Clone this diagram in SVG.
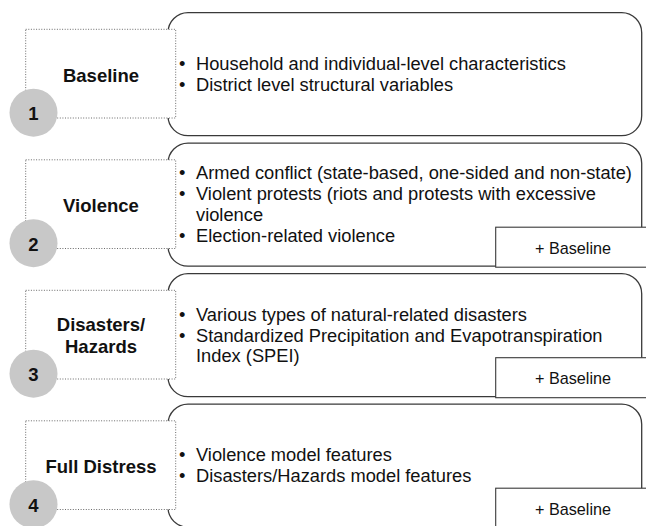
<svg xmlns="http://www.w3.org/2000/svg" width="646" height="526" viewBox="0 0 646 526">
  <style>
    .card { fill: #ffffff; stroke: #3a3a3a; stroke-width: 1.3; }
    .tag { fill: #ffffff; stroke: #3a3a3a; stroke-width: 1.1; }
    .frame { fill: #ffffff; stroke: #6a6a6a; stroke-width: 1; stroke-dasharray: 1 1.6; }
    .badge { fill: #c8c8c8; stroke: none; }
    .lbl { font-family: "Liberation Sans", Arial, Helvetica, sans-serif; font-weight: bold; font-size: 18.5px; fill: #111111; text-anchor: middle; }
    .num { font-family: "Liberation Sans", Arial, Helvetica, sans-serif; font-weight: bold; font-size: 18.5px; fill: #111111; text-anchor: middle; }
    .item { font-family: "Liberation Sans", Arial, Helvetica, sans-serif; font-size: 18.3px; fill: #111111; }
    .plus { font-family: "Liberation Sans", Arial, Helvetica, sans-serif; font-size: 16.2px; fill: #111111; text-anchor: middle; }
  </style>
  <rect width="646" height="526" fill="#ffffff"/>

  <g id="baseline">
    <rect class="card" x="168" y="12.7" width="473.7" height="123" rx="20"/>
    <rect class="frame" x="25.7" y="29.3" width="150" height="88.7"/>
    <text class="lbl" x="101" y="81.7">Baseline</text>
    <text class="item" x="179" y="69.7">•</text>
    <text class="item" x="196" y="69.7">Household and individual-level characteristics</text>
    <text class="item" x="179" y="90.5">•</text>
    <text class="item" x="196" y="90.5">District level structural variables</text>
    <circle class="badge" cx="33.5" cy="112.7" r="24"/>
    <text class="num" x="33.5" y="120">1</text>
  </g>

  <g id="violence">
    <rect class="card" x="168" y="143.2" width="473.7" height="123" rx="20"/>
    <rect class="tag" x="495.7" y="227.2" width="160" height="40"/>
    <text class="plus" x="573" y="253.9">+ Baseline</text>
    <rect class="frame" x="25.7" y="159.8" width="150" height="88.7"/>
    <text class="lbl" x="101" y="212.2">Violence</text>
    <text class="item" x="179" y="179.2">•</text>
    <text class="item" x="196" y="179.2">Armed conflict (state-based, one-sided and non-state)</text>
    <text class="item" x="179" y="200">•</text>
    <text class="item" x="196" y="200">Violent protests (riots and protests with excessive</text>
    <text class="item" x="196" y="220.8">violence</text>
    <text class="item" x="179" y="241.6">•</text>
    <text class="item" x="196" y="241.6">Election-related violence</text>
    <circle class="badge" cx="33.5" cy="243.2" r="24"/>
    <text class="num" x="33.5" y="250.5">2</text>
  </g>

  <g id="disasters">
    <rect class="card" x="168" y="273.7" width="473.7" height="123" rx="20"/>
    <rect class="tag" x="495.7" y="357.7" width="160" height="40"/>
    <text class="plus" x="573" y="384.4">+ Baseline</text>
    <rect class="frame" x="25.7" y="290.3" width="150" height="88.7"/>
    <text class="lbl" x="101" y="331">Disasters/</text>
    <text class="lbl" x="101" y="353.3">Hazards</text>
    <text class="item" x="179" y="320.7">•</text>
    <text class="item" x="196" y="320.7">Various types of natural-related disasters</text>
    <text class="item" x="179" y="341.5">•</text>
    <text class="item" x="196" y="341.5">Standardized Precipitation and Evapotranspiration</text>
    <text class="item" x="196" y="362.3">Index (SPEI)</text>
    <circle class="badge" cx="33.5" cy="373.7" r="24"/>
    <text class="num" x="33.5" y="381">3</text>
  </g>

  <g id="full-distress">
    <rect class="card" x="168" y="404.2" width="473.7" height="123" rx="20"/>
    <rect class="tag" x="495.7" y="488.2" width="160" height="40"/>
    <text class="plus" x="573" y="514.9">+ Baseline</text>
    <rect class="frame" x="25.7" y="420.8" width="150" height="88.7"/>
    <text class="lbl" x="101" y="473.2">Full Distress</text>
    <text class="item" x="179" y="461.2">•</text>
    <text class="item" x="196" y="461.2">Violence model features</text>
    <text class="item" x="179" y="482">•</text>
    <text class="item" x="196" y="482">Disasters/Hazards model features</text>
    <circle class="badge" cx="33.5" cy="504.2" r="24"/>
    <text class="num" x="33.5" y="511.5">4</text>
  </g>

  <g id="connectors"/>
</svg>
